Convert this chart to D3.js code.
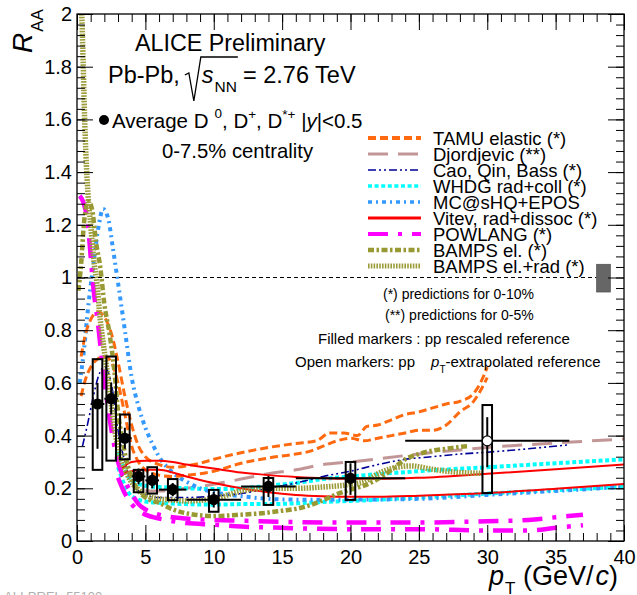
<!DOCTYPE html>
<html><head><meta charset="utf-8">
<script src="https://cdn.jsdelivr.net/npm/d3@7"></script>
<style>
body{margin:0;background:#fff;}
svg{display:block;font-family:"Liberation Sans",Arial,Helvetica,sans-serif;}
svg text{white-space:pre;}
</style></head>
<body><svg id="c" width="637" height="595"></svg>
<script>
// ---------------- data ----------------
const pt      = [1.5, 2.5, 3.5, 4.5, 5.5, 7, 10, 14, 20, 30];
const raa     = [0.52, 0.54, 0.39, 0.245, 0.23, 0.195, 0.157, 0.207, 0.238, 0.38];
const ptLo    = [1, 2, 3, 4, 5, 6, 8, 12, 16, 24];
const ptHi    = [2, 3, 4, 5, 6, 8, 12, 16, 24, 36];
const statLo  = [0.35, 0.48, 0.35, 0.215, 0.20, 0.17, 0.127, 0.167, 0.175, 0.28];
const statHi  = [0.60, 0.60, 0.43, 0.275, 0.26, 0.22, 0.187, 0.247, 0.295, 0.47];
const sysLo   = [0.27, 0.305, 0.31, 0.185, 0.18, 0.155, 0.111, 0.137, 0.156, 0.182];
const sysHi   = [0.69, 0.70, 0.48, 0.27, 0.28, 0.235, 0.194, 0.239, 0.30, 0.516];
const openRef = [false, false, false, false, false, false, false, false, false, true];
const sysHalfWidth = 0.35;
const normUnc = [0.945, 1.05];
const normPt  = [38, 39];

const tamuUpper = [[0.3,0.7],[0.6,0.78],[1,0.84],[1.5,0.87],[2,0.85],[2.5,0.79],[3,0.68],[3.5,0.55],[4,0.44],[4.5,0.36],[5,0.32],[6,0.29],[7,0.28],[8,0.285],[9,0.295],[10,0.31],[12,0.335],[14,0.355],[16,0.37],[17.5,0.38],[18.5,0.41],[19.5,0.41],[20.5,0.40],[21.2,0.435],[22,0.44],[23,0.46],[24,0.48],[25,0.49],[26,0.505],[27,0.52],[28,0.53],[29,0.56],[29.5,0.6],[30,0.66]];
const tamuLower = [[0.3,0.55],[0.6,0.61],[1,0.66],[1.5,0.69],[2,0.70],[2.5,0.68],[3,0.6],[3.5,0.48],[4,0.36],[4.5,0.3],[5,0.27],[6,0.25],[7,0.245],[8,0.25],[9,0.255],[10,0.265],[12,0.295],[14,0.315],[16,0.33],[17,0.34],[18,0.36],[19,0.38],[20,0.39],[21,0.38],[22,0.39],[23,0.40],[24,0.41],[25,0.42],[26,0.42],[27,0.44],[28,0.49],[29,0.53],[29.5,0.57],[30,0.62]];
const djordjevic = [[5,0.19],[6,0.19],[8,0.2],[10,0.215],[12,0.235],[14,0.255],[16,0.27],[18,0.29],[20,0.30],[25,0.33],[30,0.355],[35,0.372],[40,0.387]];
const caoQinBass = [[0.4,0.36],[0.8,0.45],[1.2,0.55],[1.6,0.63],[2,0.66],[2.5,0.6],[3,0.42],[3.5,0.3],[4,0.22],[4.5,0.19],[5,0.175],[6,0.165],[8,0.165],[10,0.17],[12,0.18],[14,0.2],[16,0.22],[18,0.245],[20,0.265],[22,0.29],[24,0.31],[26,0.32],[28,0.33],[30,0.337],[33,0.35],[36,0.365]];
const whdgUpper = [[3,0.34],[3.5,0.27],[4,0.23],[5,0.21],[6,0.205],[8,0.2],[10,0.197],[12,0.2],[14,0.21],[16,0.22],[18,0.235],[20,0.245],[25,0.265],[30,0.28],[35,0.295],[40,0.31]];
const whdgLower = [[3,0.28],[3.5,0.21],[4,0.17],[5,0.15],[6,0.145],[8,0.14],[10,0.138],[12,0.14],[14,0.14],[16,0.143],[18,0.148],[20,0.152],[25,0.165],[30,0.18],[35,0.193],[40,0.206]];
const mcshqEpos = [[0.2,0.6],[0.5,0.72],[0.8,0.88],[1.2,1.05],[1.6,1.2],[1.9,1.26],[2.3,1.22],[2.6,1.12],[3,0.98],[3.5,0.8],[4,0.62],[4.5,0.51],[5,0.43],[5.5,0.37],[6,0.32],[7,0.26],[8,0.225],[9,0.2],[10,0.185],[12,0.17],[14,0.16],[16,0.157],[20,0.157],[25,0.16],[30,0.175],[35,0.19],[40,0.205]];
const vitevUpper = [[3.2,0.27],[3.6,0.29],[4,0.3],[5,0.305],[6,0.305],[7,0.3],[8,0.29],[10,0.275],[12,0.26],[14,0.25],[16,0.243],[18,0.238],[20,0.236],[22,0.236],[25,0.24],[30,0.255],[35,0.272],[40,0.29]];
const vitevLower = [[3.2,0.245],[3.6,0.26],[4,0.265],[5,0.27],[6,0.27],[7,0.26],[8,0.245],[10,0.22],[12,0.2],[14,0.185],[16,0.175],[18,0.17],[20,0.168],[22,0.168],[25,0.172],[30,0.182],[35,0.198],[40,0.216]];
const powlangUpper = [[0.2,1.31],[0.5,1.28],[0.8,1.2],[1.0,1.08],[1.2,0.96],[1.5,0.84],[1.8,0.7],[2.1,0.57],[2.4,0.46],[2.7,0.37],[3,0.3],[3.5,0.23],[4,0.18],[4.5,0.14],[5,0.12],[6,0.1],[7,0.09],[8,0.085],[10,0.08],[12,0.077],[15,0.073],[20,0.07],[25,0.07],[30,0.075],[33,0.08],[35,0.09],[37,0.1]];
const powlangLower = [[3,0.24],[3.5,0.18],[4,0.14],[4.5,0.115],[5,0.1],[6,0.085],[7,0.075],[8,0.068],[10,0.062],[12,0.055],[15,0.05],[20,0.045],[25,0.045],[30,0.04],[33,0.04],[35,0.05],[37,0.06]];
const bampsEl = [[0.1,0.95],[0.3,1.05],[0.5,1.2],[0.8,1.29],[1.1,1.26],[1.4,1.13],[1.7,1.04],[2.0,0.9],[2.4,0.78],[2.8,0.61],[3.0,0.49],[3.3,0.39],[3.6,0.31],[4,0.24],[4.5,0.19],[5,0.165],[6,0.145],[7,0.12],[8,0.105],[10,0.095],[12,0.1],[14,0.108],[15,0.115],[16,0.122],[17,0.135],[18,0.155],[19,0.178],[20,0.195],[21,0.21],[22,0.235],[23,0.27],[24,0.31],[25,0.33],[26,0.343],[27,0.35],[28,0.357],[28.7,0.36]];
const bampsElRad = [[0.35,2.0],[0.45,1.82],[0.55,1.62],[0.65,1.47],[0.8,1.32],[1.0,1.2],[1.2,1.08],[1.45,0.98],[1.7,0.84],[2.0,0.72],[2.3,0.61],[2.7,0.44],[3.1,0.33],[3.6,0.26],[4.1,0.215],[4.6,0.19],[5,0.175],[6,0.16],[7,0.155],[8,0.152],[10,0.16],[12,0.19],[14,0.2],[16,0.2],[18,0.205],[20,0.215],[21,0.225],[22,0.255],[23,0.275],[24.4,0.285],[26,0.272],[28,0.26],[29.7,0.257]];

const modelNames = ["TAMU elastic (*)","Djordjevic (**)","Cao, Qin, Bass (*)","WHDG rad+coll (*)","MC@sHQ+EPOS","Vitev, rad+dissoc (*)","POWLANG (*)","BAMPS el. (*)","BAMPS el.+rad (*)"];
const modelCurves = [[tamuUpper,tamuLower],[djordjevic],[caoQinBass],[whdgUpper,whdgLower],[mcshqEpos],[vitevUpper,vitevLower],[powlangUpper,powlangLower],[bampsEl],[bampsElRad]];

const xTicks = [0,5,10,15,20,25,30,35,40];
const yTicks = [0,0.2,0.4,0.6,0.8,1,1.2,1.4,1.6,1.8,2];

// ---------------- styles ----------------
const styles = [
  {c:"#ff6a10", w:3,   d:"8,4"},
  {c:"#c29696", w:3,   d:"20,10"},
  {c:"#000099", w:1.6, d:"8,3,2,3,2,3"},
  {c:"#00ffff", w:4,   d:"4,2.6"},
  {c:"#3399ff", w:4,   d:"4,4,2,4"},
  {c:"#ff0000", w:2,   d:null},
  {c:"#ff00ff", w:4.5, d:"20,10,4,10"},
  {c:"#999933", w:4.5, d:"6,2.5,2.5,2.5"},
  {c:"#9c9c3a", w:5.5, d:"1.6,1.2"}
];
const legendW = [4,3,1.7,3.5,3.5,3,4,4.5,5];

const W = 637, H = 595;
const L = 77, R = 624, T = 14, B = 541;
const x = d3.scaleLinear().domain([0,40]).range([L,R]);
const y = d3.scaleLinear().domain([0,2]).range([B,T]);

const svg = d3.select("#c");
svg.append("rect").attr("width",W).attr("height",H).attr("fill","#fff");
svg.append("defs").append("clipPath").attr("id","clip")
  .append("rect").attr("x",L).attr("y",T).attr("width",R-L).attr("height",B-T);

// ---------------- model curves ----------------
const line = d3.line().x(d=>x(d[0])).y(d=>y(d[1])).curve(d3.curveMonotoneX);
const gc = svg.append("g").attr("clip-path","url(#clip)");
[1,3,4,2,0,5,6,7,8].forEach(i=>{
  modelCurves[i].forEach(cv=>{
    gc.append("path").attr("d",line(cv)).attr("fill","none")
      .attr("stroke",styles[i].c).attr("stroke-width",styles[i].w)
      .attr("stroke-dasharray",styles[i].d);
  });
});

// unity line + normalisation box
svg.append("line").attr("x1",x(0)).attr("x2",x(normPt[0])).attr("y1",y(1)).attr("y2",y(1))
  .attr("stroke","#000").attr("stroke-width",1).attr("stroke-dasharray","4,3");
svg.append("rect").attr("x",x(normPt[0])).attr("width",x(normPt[1])-x(normPt[0]))
  .attr("y",y(normUnc[1])).attr("height",y(normUnc[0])-y(normUnc[1]))
  .attr("fill","#666").attr("stroke","#555").attr("stroke-width",0.8);

// ---------------- data ----------------
const gd = svg.append("g");
pt.forEach((p,i)=>{
  gd.append("rect").attr("x",x(p-sysHalfWidth)).attr("width",x(p+sysHalfWidth)-x(p-sysHalfWidth))
    .attr("y",y(sysHi[i])).attr("height",y(sysLo[i])-y(sysHi[i]))
    .attr("fill","none").attr("stroke","#000").attr("stroke-width",2);
  gd.append("line").attr("x1",x(ptLo[i])).attr("x2",x(ptHi[i])).attr("y1",y(raa[i])).attr("y2",y(raa[i]))
    .attr("stroke","#000").attr("stroke-width",2);
  gd.append("line").attr("x1",x(p)).attr("x2",x(p)).attr("y1",y(statLo[i])).attr("y2",y(statHi[i]))
    .attr("stroke","#000").attr("stroke-width",2);
  gd.append("circle").attr("cx",x(p)).attr("cy",y(raa[i])).attr("r",5)
    .attr("fill",openRef[i]?"#fff":"#000").attr("stroke","#000").attr("stroke-width",1.2);
});

// ---------------- axes ----------------
const ax = svg.append("g");
function styleAxis(g){ g.select(".domain").remove(); g.selectAll("line").attr("stroke","#000").attr("stroke-width",1); }
function styleLabels(g){ g.selectAll("text").attr("font-size",20).attr("fill","#000").attr("font-family",'"Liberation Sans",Arial,sans-serif'); }
ax.append("g").attr("transform",`translate(0,${B})`)
  .call(d3.axisBottom(x).tickValues(d3.range(0,41,1)).tickSize(-8).tickFormat(""))
  .call(styleAxis);
ax.append("g").attr("transform",`translate(0,${B})`)
  .call(d3.axisBottom(x).tickValues(xTicks).tickSize(-16).tickPadding(9).tickFormat(d3.format("d")))
  .call(styleAxis).call(styleLabels);
ax.append("g").attr("transform",`translate(0,${T})`)
  .call(d3.axisTop(x).tickValues(d3.range(0,41,1)).tickSize(-8).tickFormat("")).call(styleAxis);
ax.append("g").attr("transform",`translate(0,${T})`)
  .call(d3.axisTop(x).tickValues(xTicks).tickSize(-16).tickFormat("")).call(styleAxis);
ax.append("g").attr("transform",`translate(${L},0)`)
  .call(d3.axisLeft(y).tickValues(d3.range(0,2.001,0.04)).tickSize(-8).tickFormat("")).call(styleAxis);
ax.append("g").attr("transform",`translate(${L},0)`)
  .call(d3.axisLeft(y).tickValues(yTicks).tickSize(-16).tickPadding(5).tickFormat(d3.format("")))
  .call(styleAxis).call(styleLabels);
ax.append("g").attr("transform",`translate(${R},0)`)
  .call(d3.axisRight(y).tickValues(d3.range(0,2.001,0.04)).tickSize(-8).tickFormat("")).call(styleAxis);
ax.append("g").attr("transform",`translate(${R},0)`)
  .call(d3.axisRight(y).tickValues(yTicks).tickSize(-16).tickFormat("")).call(styleAxis);
svg.append("rect").attr("x",L).attr("y",T).attr("width",R-L).attr("height",B-T)
  .attr("fill","none").attr("stroke","#000").attr("stroke-width",1.3);

// ---------------- text helpers ----------------
function runs(g, x0, y0, items){
  let cx = x0;
  items.forEach(it=>{
    const t = g.append("text").attr("x",cx+(it.dx||0)).attr("y",y0+(it.dy||0))
      .attr("font-size",it.s).attr("fill","#000").text(it.t);
    if(it.i) t.attr("font-style","italic");
    cx += (it.dx||0) + t.node().getComputedTextLength() + (it.adv||0);
  });
  return cx;
}
const gt = svg.append("g");

// axis titles
const ry = gt.append("text").attr("transform","translate(32,53) rotate(-90)").attr("fill","#000");
ry.append("tspan").attr("font-size",28).attr("font-style","italic").text("R");
ry.append("tspan").attr("font-size",17).attr("dy",11).attr("dx",1).text("AA");

runs(gt, 489, 585, [
  {t:"p", s:27, i:true},
  {t:"T", s:17, dy:9, dx:1},
  {t:" (GeV/", s:27},
  {t:"c", s:27, i:true, dx:2},
  {t:")", s:27}
]);

// header texts
gt.append("text").attr("x",135).attr("y",51).attr("font-size",23.3).text("ALICE Preliminary");
let xe = runs(gt, 108, 83, [{t:"Pb-Pb,", s:23.5}]);
const r0 = xe + 5;
gt.append("path").attr("d",`M${r0},${75} L${r0+4},${73} L${r0+9},${101} L${r0+16},${57} L${r0+53},${57}`)
  .attr("fill","none").attr("stroke","#000").attr("stroke-width",1.3);
xe = runs(gt, r0+17, 83, [{t:"s", s:23.5, i:true}, {t:"NN", s:15.5, dy:9, dx:1}]);
runs(gt, xe+6, 83, [{t:"= 2.76 TeV", s:23.5}]);

gt.append("circle").attr("cx",104).attr("cy",120).attr("r",5).attr("fill","#000");
runs(gt, 112, 128, [
  {t:"Average D", s:20.5},
  {t:"0", s:13.5, dy:-10, dx:6},
  {t:", D", s:20.5},
  {t:"+", s:13.5, dy:-9},
  {t:", D", s:20.5},
  {t:"*+", s:13.5, dy:-9},
  {t:" |", s:20.5},
  {t:"y", s:20.5, i:true},
  {t:"|<0.5", s:20.5}
]);
gt.append("text").attr("x",162).attr("y",158).attr("font-size",20.3).text("0-7.5% centrality");

// legend
const lg = svg.append("g");
const rowY = [138,154,170,186,202,218,234,250,266];
modelNames.forEach((n,i)=>{
  lg.append("line").attr("x1",368).attr("x2",421).attr("y1",rowY[i]).attr("y2",rowY[i])
    .attr("stroke",styles[i].c).attr("stroke-width",legendW[i]).attr("stroke-dasharray",styles[i].d);
  lg.append("text").attr("x",433).attr("y",rowY[i]+6.5).attr("font-size",18.5).attr("fill","#000").text(n);
});

// notes
gt.append("text").attr("x",383).attr("y",299).attr("font-size",14).text("(*) predictions for 0-10%");
gt.append("text").attr("x",385).attr("y",320).attr("font-size",14).text("(**) predictions for 0-5%");
gt.append("text").attr("x",318).attr("y",344).attr("font-size",15).text("Filled markers : pp rescaled reference");
runs(gt, 295, 367, [
  {t:"Open markers: pp", s:15},
  {t:"p", s:15, i:true, dx:16},
  {t:"T", s:10, dy:6},
  {t:"-extrapolated reference", s:15}
]);

gt.append("text").attr("x",4).attr("y",601).attr("font-size",13).attr("fill","#b0b0b0").text("ALI-PREL-55100");
</script></body></html>
